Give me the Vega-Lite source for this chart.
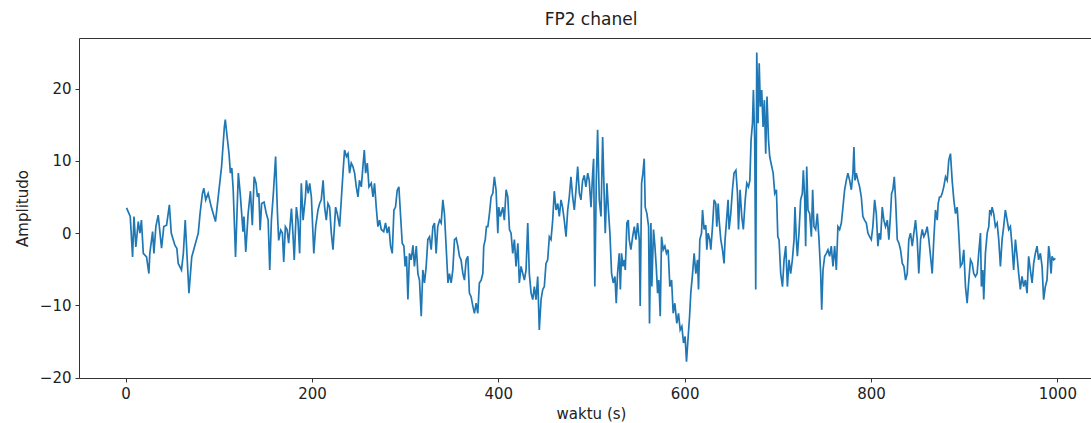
{
"$schema": "https://vega.github.io/schema/vega-lite/v6.json",
"autosize": {"type": "none"},
"padding": {"left": 79, "top": 38, "right": 0, "bottom": 45},
"width": 1024,
"height": 340,
"background": "white",
"config": {
  "font": "DejaVu Sans",
  "view": {"stroke": "#333", "strokeWidth": 1},
  "axis": {"domain": false, "grid": false, "tickColor": "#333", "tickSize": 4, "labelColor": "#222", "labelFontSize": 15, "labelFont": "DejaVu Sans", "titleFont": "DejaVu Sans", "titleFontSize": 15, "titleFontWeight": "normal", "titleColor": "#222", "labelPadding": 4}
},
"title": {"text": "FP2 chanel", "fontSize": 17, "fontWeight": "normal", "font": "DejaVu Sans", "color": "#222", "offset": 9},
"data": {"values": [
{"t":1,"v":3.5},{"t":5,"v":2.3},{"t":7.5,"v":-3.3},{"t":9,"v":2.3},{"t":11,"v":-1.9},{"t":13.6,"v":1.6},{"t":15.4,"v":0},{"t":17,"v":1.8},{"t":19,"v":-2.8},{"t":22.5,"v":-3.3},{"t":25,"v":-5.6},{"t":26,"v":-2.8},{"t":29,"v":0.2},{"t":30.4,"v":-2.8},{"t":32.5,"v":0.9},{"t":35,"v":2.5},{"t":38.6,"v":-2.1},{"t":41,"v":0.9},{"t":44,"v":1.1},{"t":47,"v":3.9},{"t":49,"v":0},{"t":53,"v":-1.7},{"t":55,"v":-2.1},{"t":56.5,"v":-4.2},{"t":60,"v":-5.1},{"t":62,"v":-2.8},{"t":64,"v":1.8},{"t":66,"v":-3.3},{"t":68,"v":-8.3},{"t":71,"v":-3.3},{"t":74,"v":-1.9},{"t":78,"v":0},{"t":80,"v":2.8},{"t":82.5,"v":5.5},{"t":84,"v":6.2},{"t":86,"v":4.6},{"t":88.6,"v":5.5},{"t":92,"v":3.6},
{"t":96.5,"v":1.6},{"t":103,"v":9.2},{"t":106,"v":14.7},{"t":107,"v":15.7},{"t":109,"v":13.3},{"t":111,"v":11},{"t":112.5,"v":8.3},{"t":114,"v":9.0},{"t":115.5,"v":6.0},{"t":118,"v":-3.3},{"t":121,"v":8.3},{"t":123,"v":5.5},{"t":126,"v":0.2},{"t":127,"v":2.3},{"t":129,"v":-2.6},{"t":131.5,"v":2.7},{"t":134,"v":5.8},{"t":136,"v":1.1},{"t":138,"v":7.8},{"t":140,"v":6.9},{"t":141.5,"v":5.0},{"t":143,"v":5.5},{"t":144.4,"v":0.4},{"t":146,"v":4.1},{"t":148.6,"v":4.3},{"t":151,"v":2.7},{"t":153,"v":1.8},{"t":154.7,"v":-5.1},{"t":156.5,"v":1.8},{"t":158.6,"v":5.5},{"t":161,"v":10.6},{"t":163,"v":2.7},{"t":164.3,"v":-1.0},{"t":166.5,"v":0.4},{"t":168.3,"v":0},{"t":169.7,"v":-4.0},{"t":171.5,"v":0.9},{"t":173.3,"v":0.5},{"t":175,"v":-1.4},{"t":178,"v":3.4},{"t":179.7,"v":-0.3},{"t":181,"v":-3.7},{"t":183.3,"v":3.6},{"t":185,"v":1.8},{"t":186.8,"v":-2.8},{"t":188.6,"v":6.9},{"t":190.5,"v":1.8},{"t":193,"v":5.0},
{"t":194,"v":7.3},{"t":196,"v":5.5},{"t":197.6,"v":6.9},{"t":199.4,"v":5.0},{"t":202,"v":-2.8},{"t":204,"v":0.9},{"t":206.5,"v":3.2},{"t":208.3,"v":4.1},{"t":210,"v":4.6},{"t":212,"v":7.3},{"t":213.6,"v":3.6},{"t":215.4,"v":1.8},{"t":217.2,"v":4.1},{"t":219,"v":3.6},{"t":220.8,"v":0},{"t":222.6,"v":-2.3},{"t":225.4,"v":3.6},{"t":227.2,"v":2.7},{"t":229.7,"v":0.9},{"t":231.5,"v":4.6},{"t":233.3,"v":8.3},{"t":235,"v":11.5},{"t":237,"v":10.6},{"t":238.7,"v":11},{"t":240.4,"v":8.3},{"t":242.2,"v":9.7},{"t":244,"v":9.2},{"t":245.8,"v":8.3},{"t":247.6,"v":6.4},{"t":249.4,"v":5.0},{"t":251,"v":7.3},{"t":253,"v":6.4},{"t":254.7,"v":9.2},{"t":256.2,"v":11.5},{"t":257.6,"v":8.3},{"t":259.4,"v":9.7},{"t":261.2,"v":6.4},{"t":263.7,"v":6.9},{"t":265.5,"v":5.0},{"t":267.2,"v":6.9},{"t":269,"v":3.6},{"t":270.8,"v":0.9},{"t":272.6,"v":1.8},{"t":274.4,"v":0.5},{"t":277,"v":0.2},{"t":279,"v":1.4},{"t":280.8,"v":0},{"t":282.6,"v":0.9},{"t":284.4,"v":-1.8},{"t":286.2,"v":-2.8},{"t":288,"v":3.2},{"t":289.7,"v":3.6},{"t":291.5,"v":5.9},{"t":293.3,"v":6.4},
{"t":296.9,"v":-1.4},{"t":298.7,"v":-1.8},{"t":300,"v":-4.6},{"t":301.5,"v":-3.2},{"t":303,"v":-9.2},{"t":304.7,"v":-2.8},{"t":306.5,"v":-3.7},{"t":308.4,"v":-1.7},{"t":310,"v":-4.6},{"t":312,"v":-1.8},{"t":313.7,"v":-5.6},{"t":315.4,"v":-6.5},{"t":317.3,"v":-11.5},{"t":319,"v":-5.1},{"t":320.8,"v":-6.9},{"t":322.6,"v":-4.6},{"t":324.4,"v":-0.9},{"t":326.2,"v":-0.5},{"t":328,"v":-2.3},{"t":329.8,"v":0.9},{"t":331.5,"v":1.4},{"t":333.3,"v":-2.8},{"t":335,"v":0.9},{"t":337,"v":1.8},{"t":338.7,"v":1.4},{"t":340.5,"v":4.6},{"t":342.2,"v":2.7},{"t":344,"v":-1.8},{"t":346,"v":-6.9},{"t":347.6,"v":-5.6},{"t":349.4,"v":-6.9},{"t":351.2,"v":-5.1},{"t":353,"v":-0.9},{"t":354.8,"v":-0.7},{"t":356.6,"v":-1.8},{"t":358.3,"v":-3.2},{"t":360,"v":-3.7},{"t":362,"v":-5.6},{"t":363.7,"v":-6.5},{"t":365.5,"v":-3.7},{"t":367.3,"v":-3.2},{"t":369,"v":-8.3},{"t":370.8,"v":-8.8},{"t":372.7,"v":-10.1},{"t":374.4,"v":-11.1},{"t":376.2,"v":-9.7},{"t":378,"v":-11.1},{"t":379.7,"v":-6.9},{"t":381.6,"v":-6.5},{"t":383.4,"v":-5.6},{"t":384.4,"v":-1.8},{"t":386,"v":-0.9},{"t":387.3,"v":0.9},{"t":388.8,"v":0.9},{"t":390.5,"v":2.7},{"t":392.3,"v":5.0},{"t":394.1,"v":5.5},{"t":395.8,"v":7.8},{"t":397.6,"v":6.0},{"t":399.5,"v":0},{"t":400.5,"v":3.6},{"t":402.3,"v":2.3},
{"t":404.8,"v":3.6},{"t":406.5,"v":1.8},{"t":408.4,"v":6.0},{"t":410.2,"v":5.0},{"t":412,"v":0.5},{"t":413.7,"v":0},{"t":415.5,"v":-2.8},{"t":417.3,"v":-0.9},{"t":419,"v":-4.6},{"t":421,"v":-1.4},{"t":422.6,"v":-6.9},{"t":424.4,"v":-4.6},{"t":426.3,"v":-5.6},{"t":428,"v":-6.5},{"t":429.8,"v":-5.1},{"t":431.6,"v":1.4},{"t":433.3,"v":-5.6},{"t":435.2,"v":-8.3},{"t":437,"v":-9.2},{"t":438.7,"v":-7.4},{"t":440.5,"v":-9.2},{"t":442.3,"v":-6.0},{"t":444,"v":-13.4},{"t":445.9,"v":-9.2},{"t":447.7,"v":-7.8},{"t":449.4,"v":-7.4},{"t":451.2,"v":-4.2},{"t":453,"v":-3.7},{"t":454.8,"v":-0.5},{"t":456.6,"v":-0.9},{"t":458.4,"v":1.8},{"t":460.1,"v":5.8},{"t":462,"v":3.2},{"t":463.8,"v":4.1},{"t":465.5,"v":2.3},{"t":467.3,"v":4.6},{"t":469,"v":3.6},{"t":470.8,"v":1.8},{"t":472.7,"v":-0.5},{"t":474.5,"v":3.2},{"t":476.2,"v":5.0},{"t":478,"v":7.8},{"t":479.8,"v":5.0},{"t":481.6,"v":3.2},{"t":483.4,"v":6.0},{"t":485.2,"v":9.2},{"t":487,"v":5.5},{"t":488.7,"v":4.6},{"t":490.5,"v":7.3},{"t":492.3,"v":8.0},{"t":494,"v":6.4},{"t":496,"v":8.3},{"t":497.6,"v":7.3},{"t":499.5,"v":3.6},{"t":501.3,"v":8.3},{"t":502.3,"v":10.3},{"t":503.6,"v":-7.4},
{"t":505.2,"v":7.3},{"t":506.6,"v":14.3},{"t":508.4,"v":4.6},{"t":510.2,"v":2.3},{"t":512,"v":13.3},{"t":513.8,"v":4.6},{"t":514.8,"v":0},{"t":516.6,"v":6.9},{"t":518,"v":3.6},{"t":519.8,"v":0},{"t":521.6,"v":-5.6},{"t":523.4,"v":-6.9},{"t":525.2,"v":-6.0},{"t":526.6,"v":-9.7},{"t":528,"v":-5.6},{"t":529.8,"v":-2.8},{"t":531,"v":-7.8},{"t":532.3,"v":-2.8},{"t":533.8,"v":-4.6},{"t":535.2,"v":-3.7},{"t":536.3,"v":-5.1},{"t":538,"v":1.4},{"t":539.5,"v":1.8},{"t":540.5,"v":-0.9},{"t":542.3,"v":-2.3},{"t":544.2,"v":-0.5},{"t":546,"v":0.9},{"t":547.7,"v":-0.9},{"t":549.5,"v":1.4},{"t":551.3,"v":-0.9},{"t":552.3,"v":-10.1},{"t":553.8,"v":6.9},{"t":555.2,"v":8.3},{"t":556.6,"v":10.3},{"t":557.7,"v":3.6},{"t":559.5,"v":2.7},{"t":561.3,"v":0.9},{"t":562.3,"v":-12.5},{"t":563.8,"v":1.4},{"t":564.8,"v":-7.4},{"t":566.6,"v":0.5},{"t":568.1,"v":-1.8},{"t":569.5,"v":-4.6},{"t":571,"v":-8.3},{"t":572.3,"v":-6.5},{"t":573.8,"v":-11.5},{"t":575.2,"v":-0.5},{"t":577,"v":-2.3},{"t":578.8,"v":-1.8},{"t":580.5,"v":-2.8},{"t":582.3,"v":-2.3},{"t":584.1,"v":-7.4},{"t":586,"v":-6.5},{"t":587.7,"v":-11.1},{"t":589.5,"v":-9.7},{"t":591.6,"v":-12.5},{"t":593.4,"v":-11.1},{"t":595.2,"v":-13.4},{"t":597,"v":-12.9},{"t":598.8,"v":-15.2},{"t":600.5,"v":-14.3},{"t":602,"v":-17.8},{"t":603.8,"v":-14.3},{"t":605.3,"v":-11.5},{"t":606.6,"v":-8.3},
{"t":608.5,"v":-5.6},{"t":610.2,"v":-2.8},{"t":612,"v":-5.6},{"t":613.8,"v":-3.7},{"t":614.9,"v":-7.8},{"t":616.3,"v":-0.9},{"t":618.1,"v":0},{"t":619.2,"v":3.2},{"t":620.9,"v":0.5},{"t":622.7,"v":1.1},{"t":623.8,"v":-2.3},{"t":625.2,"v":0},{"t":627,"v":-0.9},{"t":628.1,"v":-2.3},{"t":629.9,"v":0.9},{"t":631.6,"v":4.6},{"t":633.4,"v":4.1},{"t":634.5,"v":0.9},{"t":636,"v":4.1},{"t":637,"v":1.8},{"t":638.8,"v":-0.9},{"t":640.6,"v":-2.3},{"t":642.3,"v":-4.2},{"t":643.4,"v":-0.9},{"t":645,"v":1.8},{"t":646.6,"v":4.6},{"t":647.7,"v":0.5},{"t":649.5,"v":2.7},{"t":651.3,"v":6.0},{"t":653,"v":8.3},{"t":655,"v":8.7},{"t":656.7,"v":5.5},{"t":657.8,"v":0.5},{"t":659.5,"v":6.0},{"t":661.3,"v":2.3},{"t":663,"v":0.5},{"t":665,"v":4.6},{"t":666.7,"v":6.9},{"t":668.5,"v":6.4},{"t":670,"v":7.3},{"t":671.3,"v":12.9},{"t":672.8,"v":15.2},{"t":673.8,"v":19.8},{"t":675.2,"v":12.9},{"t":676.3,"v":-7.8},{"t":677.4,"v":25.0},{"t":678.8,"v":15.2},{"t":680,"v":23.5},{"t":681.3,"v":17.5},{"t":682.7,"v":19.8},{"t":684.2,"v":14.7},{"t":685.6,"v":18.4},{"t":687,"v":11.0},{"t":688.4,"v":18.9},{"t":690,"v":12.9},{"t":691.3,"v":10.6},{"t":692.7,"v":9.7},{"t":695,"v":8.3},{"t":696.7,"v":5.5},{"t":698.5,"v":6.0},{"t":700,"v":-0.5},{"t":701.3,"v":-0.9},{"t":703.1,"v":-5.6},{"t":705,"v":-7.4},{"t":706.7,"v":-3.7},{"t":708.5,"v":-1.8},
{"t":710.3,"v":-7.4},{"t":712,"v":-3.7},{"t":713.8,"v":-5.6},{"t":715.6,"v":-3.7},{"t":717.4,"v":-0.9},{"t":718.4,"v":3.6},{"t":719.9,"v":-0.9},{"t":721,"v":-3.2},{"t":722.7,"v":0},{"t":724.5,"v":4.6},{"t":726.3,"v":5.5},{"t":727.4,"v":8.7},{"t":728.8,"v":5.0},{"t":729.9,"v":-1.8},{"t":731,"v":9.2},{"t":732.4,"v":3.2},{"t":734.2,"v":2.7},{"t":736,"v":-0.5},{"t":737.4,"v":6.0},{"t":738.8,"v":0.9},{"t":740.6,"v":0.5},{"t":742.4,"v":2.7},{"t":744.2,"v":-0.9},{"t":746,"v":-5.6},{"t":747.1,"v":-10.6},{"t":748.5,"v":-5.1},{"t":750.3,"v":-3.2},{"t":752.1,"v":-2.8},{"t":753.8,"v":-2.3},{"t":755.6,"v":-3.2},{"t":757.4,"v":-1.8},{"t":759.2,"v":-4.6},{"t":761,"v":-1.8},{"t":762.8,"v":-5.1},{"t":764.5,"v":0.9},{"t":766.3,"v":0.5},{"t":768.2,"v":1.4},{"t":769.9,"v":3.6},{"t":771.7,"v":6.0},{"t":773.5,"v":7.3},{"t":775.2,"v":8.3},{"t":777.1,"v":7.3},{"t":778.9,"v":6.0},{"t":780.6,"v":8.3},{"t":781.7,"v":11.9},{"t":782.8,"v":7.3},{"t":784.2,"v":8.3},{"t":786,"v":7.3},{"t":787.8,"v":6.4},{"t":789.6,"v":5.0},{"t":791.3,"v":2.3},{"t":793.1,"v":1.8},{"t":795,"v":1.4},{"t":796.7,"v":0},{"t":798.5,"v":-0.5},{"t":800.3,"v":-0.9},{"t":802,"v":0.9},{"t":803.9,"v":4.6},{"t":805.7,"v":2.7},{"t":807.4,"v":-1.8},{"t":808.9,"v":0},{"t":810.3,"v":-0.9},
{"t":812.1,"v":3.6},{"t":813.8,"v":1.8},{"t":815.6,"v":0.9},{"t":817.5,"v":1.8},{"t":819.2,"v":-0.9},{"t":821,"v":2.7},{"t":822.1,"v":5.5},{"t":823.5,"v":6.0},{"t":825,"v":7.8},{"t":826.4,"v":4.6},{"t":828.2,"v":-0.9},{"t":830,"v":-1.4},{"t":831.7,"v":-2.3},{"t":833.6,"v":-4.2},{"t":835.3,"v":-4.6},{"t":837.1,"v":-6.5},{"t":838.9,"v":-5.6},{"t":840.6,"v":-0.9},{"t":842.4,"v":0},{"t":844.3,"v":-1.8},{"t":846,"v":0},{"t":847.8,"v":1.8},{"t":849.6,"v":-0.9},{"t":851.3,"v":-5.6},{"t":853.2,"v":-0.9},{"t":855,"v":0.5},{"t":856.7,"v":-0.5},{"t":858.5,"v":0},{"t":860.3,"v":0.9},{"t":862.1,"v":-0.9},{"t":863.9,"v":-3.2},{"t":865.7,"v":-5.6},{"t":867.4,"v":-0.9},{"t":869.2,"v":3.2},{"t":871.1,"v":1.8},{"t":872.1,"v":4.1},{"t":873.5,"v":5.0},{"t":874.9,"v":5.0},{"t":876.4,"v":5.5},{"t":878.1,"v":6.4},{"t":880,"v":7.8},{"t":881.8,"v":7.3},{"t":883.5,"v":10.1},{"t":885.3,"v":11.0},{"t":887.1,"v":7.3},{"t":888.9,"v":4.6},{"t":890.7,"v":2.7},{"t":892.5,"v":3.6},{"t":894.2,"v":0},{"t":896,"v":-4.6},{"t":897.9,"v":-4.2},{"t":899.6,"v":-2.3},{"t":901.4,"v":-7.4},{"t":903.2,"v":-9.7},{"t":905,"v":-6.5},{"t":906.8,"v":-3.7},{"t":908.6,"v":-4.2},{"t":910.3,"v":-5.6},
{"t":912.1,"v":-6.0},{"t":913.9,"v":-5.6},{"t":915.6,"v":-2.8},{"t":917.5,"v":0},{"t":918.5,"v":-7.4},{"t":920,"v":-5.1},{"t":921,"v":-9.2},{"t":922.8,"v":-2.8},{"t":924.7,"v":0},{"t":926.4,"v":0.9},{"t":927.5,"v":3.2},{"t":929,"v":2.7},{"t":930,"v":3.6},{"t":931.7,"v":2.7},{"t":933.5,"v":0.9},{"t":935.4,"v":1.4},{"t":937.1,"v":-0.9},{"t":938.9,"v":-4.6},{"t":940.7,"v":-0.9},{"t":942.4,"v":0.9},{"t":944.2,"v":3.2},{"t":946.1,"v":1.8},{"t":947.8,"v":0.5},{"t":949.6,"v":0.9},{"t":951.4,"v":-1.8},{"t":953.1,"v":-5.1},{"t":955,"v":-0.9},{"t":956.8,"v":-3.2},{"t":958.5,"v":-5.6},{"t":960.3,"v":-7.8},{"t":962.1,"v":-6.0},{"t":963.9,"v":-7.4},{"t":965.7,"v":-6.5},{"t":967.5,"v":-8.3},{"t":969.2,"v":-3.2},{"t":971,"v":-5.1},{"t":972.9,"v":-6.9},{"t":974.6,"v":-4.2},{"t":976.4,"v":-2.8},{"t":978.2,"v":-1.8},{"t":979.9,"v":-3.7},{"t":981.8,"v":-2.8},{"t":983.6,"v":-4.6},{"t":985.3,"v":-9.2},{"t":987.1,"v":-7.4},{"t":988.9,"v":-6.5},{"t":990.7,"v":-1.8},{"t":991.7,"v":-2.8},{"t":993.3,"v":-5.6},{"t":994.3,"v":-3.2},{"t":996.1,"v":-3.7},{"t":997.9,"v":-3.5}
]},
"mark": {"type": "line", "color": "#1f77b4", "strokeWidth": 1.7, "clip": true},
"encoding": {
  "x": {"field": "t", "type": "quantitative", "scale": {"domain": [-50, 1049], "nice": false, "zero": false}, "axis": {"values": [0, 200, 400, 600, 800, 1000], "title": "waktu (s)", "titlePadding": 5, "format": "d"}},
  "y": {"field": "v", "type": "quantitative", "scale": {"domain": [-20.05, 27.0], "nice": false, "zero": false}, "axis": {"values": [-20, -10, 0, 10, 20], "title": "Amplitudo", "titlePadding": 9, "format": "d"}}
}
}
